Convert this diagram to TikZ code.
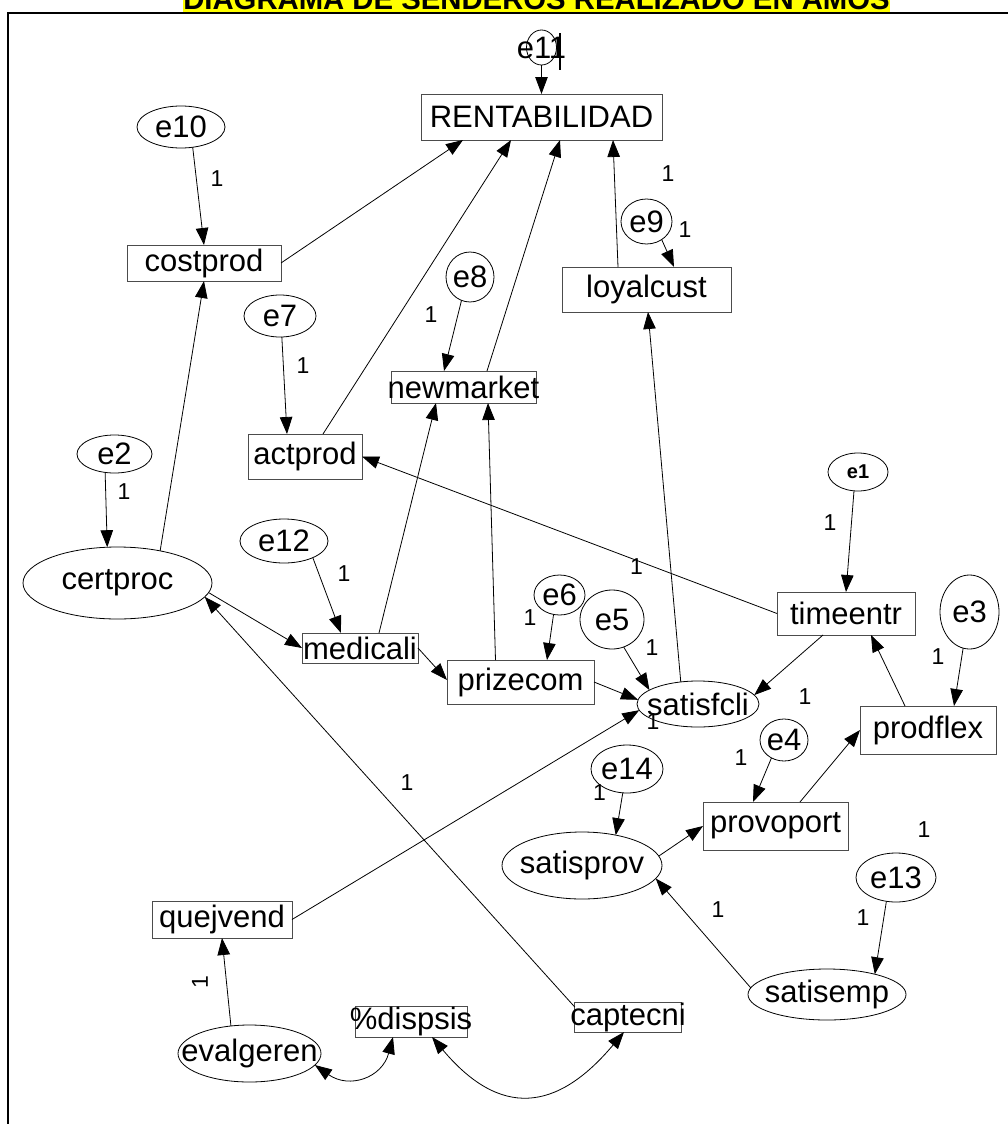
\documentclass[tikz,border=0pt]{standalone}
\usepackage{fontspec}
\setmainfont{Liberation Sans}
\usetikzlibrary{shapes.geometric,arrows.meta}
\definecolor{hilite}{RGB}{255,255,0}

% observed variable: name, x, y, width, height, text
\newcommand\obsnode[6]{\node[box,minimum width=#4pt,minimum height=#5pt,label={[lbltxt]center:#6}] (#1) at (#2,#3) {};}
% latent / error variable: name, x, y, width, height, text
\newcommand\latnode[6]{\node[oval,minimum width=#4pt,minimum height=#5pt,label={[lbltxt]center:#6}] (#1) at (#2,#3) {};}

\begin{document}
\begin{tikzpicture}[x=1pt,y=-1pt,
  box/.style={rectangle,draw=black!70,line width=0.9pt,inner sep=0pt,outer sep=0pt},
  oval/.style={ellipse,draw=black,line width=0.8pt,inner sep=0pt,outer sep=0pt},
  lbltxt/.style={font=\fontsize{31}{31}\selectfont,inner sep=0pt},
  coef/.style={font=\fontsize{23}{23}\selectfont,inner sep=0pt},
  pathc/.style={-{Triangle[length=17pt,width=12.5pt]},line width=0.8pt},
  dbl/.style={{Triangle[length=17pt,width=12.5pt]}-{Triangle[length=17pt,width=12.5pt]},line width=0.8pt},
]
\useasboundingbox (0,0) rectangle (1007,1124);

% title strip and frame
\fill[hilite] (183,-25) rectangle (890,12.5);
\node[anchor=base,inner sep=0pt,font=\fontsize{29.3}{29.3}\selectfont\bfseries] (title) at (536.5,9.5) {DIAGRAMA DE SENDEROS REALIZADO EN AMOS};
\draw[line width=2.2pt] (8,1130) -- (8,13) -- (1012,13);

% observed variables
\obsnode{rent}{541.5}{117}{241}{46}{RENTABILIDAD}
\obsnode{costprod}{204}{263}{154}{36}{costprod}
\obsnode{loyalcust}{646.5}{289.5}{169}{45}{loyalcust}
\obsnode{newmarket}{463.5}{387}{145}{32}{newmarket}
\obsnode{actprod}{305}{456.5}{114}{45}{actprod}
\obsnode{medicali}{360}{648}{116}{30}{medicali}
\obsnode{prizecom}{520.5}{682}{147}{44}{prizecom}
\obsnode{timeentr}{846}{613.5}{138}{43}{timeentr}
\obsnode{prodflex}{928}{730}{136}{48}{prodflex}
\obsnode{provoport}{775.5}{826}{145}{48}{provoport}
\obsnode{quejvend}{222}{919.5}{140}{37}{quejvend}
\obsnode{dispsis}{411}{1021.5}{112}{31}{\%dispsis}
\obsnode{captecni}{628}{1017}{106.5}{30}{captecni}

% latent and error variables
\latnode{e11}{541.5}{47.5}{30}{35}{e11}
\latnode{e10}{181}{127}{88}{42}{e10}
\latnode{e9}{646.5}{221.5}{51}{45}{e9}
\latnode{e8}{470}{277}{48}{50}{e8}
\latnode{e7}{280}{316}{72}{42}{e7}
\latnode{e2}{114.5}{454}{75}{38}{e2}
\node[oval,minimum width=60pt,minimum height=38pt,label={[inner sep=0pt,font=\fontsize{20}{20}\selectfont\bfseries]center:e1}] (e1) at (858,472) {};
\latnode{e12}{284}{541}{88}{44}{e12}
\latnode{certproc}{117.5}{583}{189}{72}{certproc}
\latnode{e6}{559.5}{595}{51}{40}{e6}
\latnode{e5}{612}{619.5}{64}{59}{e5}
\latnode{e3}{969.5}{612}{59}{74}{e3}
\latnode{satisfcli}{698}{704}{122}{46}{satisfcli}
\latnode{e4}{784}{740}{48}{42}{e4}
\latnode{e14}{627}{769}{72}{48}{e14}
\latnode{satisprov}{582}{865.5}{160}{67}{satisprov}
\latnode{e13}{896}{877.5}{80}{49}{e13}
\latnode{satisemp}{827}{994.5}{158}{51}{satisemp}
\latnode{evalgeren}{249.5}{1053.5}{143}{57}{evalgeren}

% paths
\draw[pathc] (e11.south) -- (rent.north);
\draw[pathc] (e10.-60) -- (costprod.north);
\draw[pathc] (costprod.east) -- ([xshift=-78.5pt]rent.south);
\draw[pathc] (certproc.37) -- (costprod.south);
\draw[pathc] (e9.-50) -- ([xshift=27.5pt]loyalcust.north);
\draw[pathc] ([xshift=-28.5pt]loyalcust.north) -- ([xshift=71.5pt]rent.south);
\draw[pathc] (e8.-110) -- ([xshift=-19.5pt]newmarket.north);
\draw[pathc] ([xshift=23.5pt]newmarket.north) -- ([xshift=18.5pt]rent.south);
\draw[pathc] (e7.-85) -- ([xshift=-18pt]actprod.north);
\draw[pathc] ([xshift=18pt]actprod.north) -- ([xshift=-30.5pt]rent.south);
\draw[pathc] (e2.-117) -- (certproc.106);
\draw[pathc] (e1.-102) -- (timeentr.north);
\draw[pathc] (timeentr.west) -- (actprod.east);
\draw[pathc] (e12.-30) -- ([xshift=-19pt]medicali.north);
\draw[pathc] (certproc.-6) -- (medicali.west);
\draw[pathc] ([xshift=19pt]medicali.north) -- ([xshift=-27.5pt]newmarket.south);
\draw[pathc] (medicali.east) -- ([yshift=2pt]prizecom.west);
\draw[pathc] ([xshift=-25pt]prizecom.north) -- ([xshift=24.5pt]newmarket.south);
\draw[pathc] (e6.-107) -- ([xshift=26.5pt]prizecom.north);
\draw[pathc] (e5.-67) -- (satisfcli.164);
\draw[pathc] (prizecom.east) -- (satisfcli.176);
\draw[pathc] ([xshift=-23pt]timeentr.south) -- (satisfcli.9);
\draw[pathc] (satisfcli.128) -- ([xshift=1.5pt]loyalcust.south);
\draw[pathc] ([xshift=-23pt]prodflex.north) -- ([xshift=25pt]timeentr.south);
\draw[pathc] (e3.-100) -- ([xshift=26pt]prodflex.north);
\draw[pathc] ([xshift=24.5pt]provoport.north) -- (prodflex.west);
\draw[pathc] (e4.-125) -- ([xshift=-22.5pt]provoport.north);
\draw[pathc] (e14.-100) -- (satisprov.42);
\draw[pathc] (satisprov.7) -- (provoport.west);
\draw[pathc] (satisemp.175) -- (satisprov.-10);
\draw[pathc] (e13.-112) -- (satisemp.23);
\draw[pathc] (quejvend.east) -- (satisfcli.-174);
\draw[pathc] (evalgeren.124) -- (quejvend.south);
\draw[pathc] ([yshift=-5pt]captecni.north west) -- (certproc.-9);
% covariances
\draw[dbl] (evalgeren.-10) to[out=-35,in=-105,looseness=1.3] ([xshift=-18pt]dispsis.south);
\draw[dbl] ([xshift=21pt]dispsis.south) to[out=-50,in=-130,looseness=1.4] ([xshift=-4pt]captecni.south);

% regression weights fixed to 1
\node[inner sep=0pt] (c0) at (560,51.5) {\rule{2.5pt}{37pt}};
\node[coef] (c1) at (217,179) {1};
\node[coef] (c2) at (668,174) {1};
\node[coef] (c3) at (685,230) {1};
\node[coef] (c4) at (431,315) {1};
\node[coef] (c5) at (303,366) {1};
\node[coef] (c6) at (124,492) {1};
\node[coef] (c7) at (830,523) {1};
\node[coef] (c8) at (344,574) {1};
\node[coef] (c9) at (636.5,567) {1};
\node[coef] (c10) at (530,618) {1};
\node[coef] (c11) at (652,648) {1};
\node[coef] (c12) at (805,697) {1};
\node[coef] (c13) at (653,722) {1};
\node[coef] (c14) at (938,657) {1};
\node[coef] (c15) at (741,758) {1};
\node[coef] (c16) at (599.5,793) {1};
\node[coef] (c17) at (924,830) {1};
\node[coef] (c18) at (718,910) {1};
\node[coef] (c19) at (863,918) {1};
\node[coef] (c20) at (407,783) {1};
\node[coef,rotate=90] (c21) at (200,982) {1};
\end{tikzpicture}
\end{document}
